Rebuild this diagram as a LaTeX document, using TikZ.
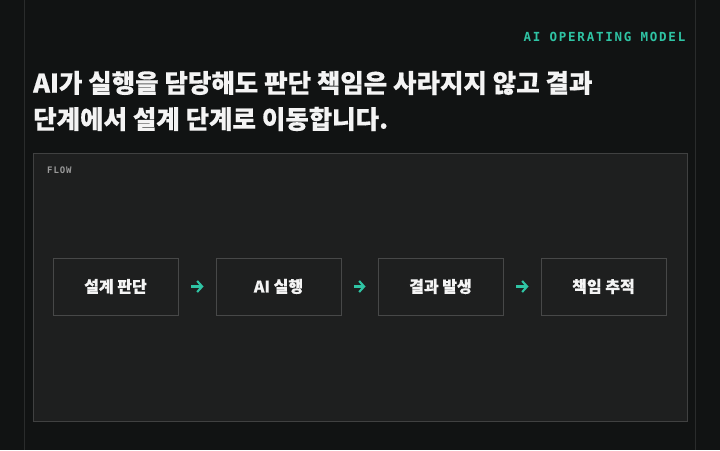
\documentclass[tikz,border=0pt]{standalone}
\usepackage{fontspec}
\usetikzlibrary{arrows.meta}
\newfontfamily\kr{Noto Sans CJK KR}[BoldFeatures={FakeBold=0.4}]
\newfontfamily\monohead{DejaVu Sans Mono}[LetterSpace=14]
\newfontfamily\monoflow{DejaVu Sans Mono}[LetterSpace=10]
\definecolor{bgc}{HTML}{111313}
\definecolor{sidec}{HTML}{2A2C2C}
\definecolor{panelc}{HTML}{1E1F1F}
\definecolor{panelline}{HTML}{404141}
\definecolor{boxline}{HTML}{474848}
\definecolor{teal}{HTML}{2FC4A4}
\definecolor{titlec}{HTML}{F4F4F4}
\definecolor{flowc}{HTML}{9A9A9A}
\tikzset{
  stepbox/.style={draw=boxline, line width=0.9pt, minimum width=125pt, minimum height=57pt, inner sep=0pt,
    font=\kr\bfseries\fontsize{16}{19}\selectfont, text=titlec},
  flowarrow/.style={draw=teal, line width=2.1pt, -{Straight Barb[length=5pt,width=11pt]}, shorten <=13pt, shorten >=12pt, yshift=-2pt},
  titletext/.style={anchor=west, inner sep=0pt, font=\kr\bfseries\fontsize{25.5}{30}\selectfont, text=titlec}
}
\begin{document}
\begin{tikzpicture}[x=1pt,y=-1pt]
\fill[bgc] (0,0) rectangle (720,450);
\useasboundingbox (0,0) rectangle (720,450);
\draw[sidec, line width=1pt] (24,0) -- (24,450);
\draw[sidec, line width=1pt] (695,0) -- (695,450);
\draw[panelline, fill=panelc, line width=1pt] (33,153) rectangle (687,421);
\node[anchor=east, inner sep=0pt, text=teal, font=\monohead\bfseries\fontsize{12.5}{14}\selectfont] (head) at (685.5,37) {AI OPERATING MODEL};
\node[titletext] (t1) at (33,83) {AI가 실행을 담당해도 판단 책임은 사라지지 않고 결과};
\node[titletext] (t2) at (33,119) {단계에서 설계 단계로 이동합니다.};
\node[anchor=west, inner sep=0pt, text=flowc, font=\monoflow\bfseries\fontsize{9}{11}\selectfont] (flow) at (47,170) {FLOW};
\node[stepbox] (b1) at (115.5,286.5) {설계 판단};
\node[stepbox] (b2) at (278.5,286.5) {AI 실행};
\node[stepbox] (b3) at (440.5,286.5) {결과 발생};
\node[stepbox] (b4) at (603.5,286.5) {책임 추적};
\draw[flowarrow] (b1) -- (b2);
\draw[flowarrow] (b2) -- (b3);
\draw[flowarrow] (b3) -- (b4);
\end{tikzpicture}
\end{document}
